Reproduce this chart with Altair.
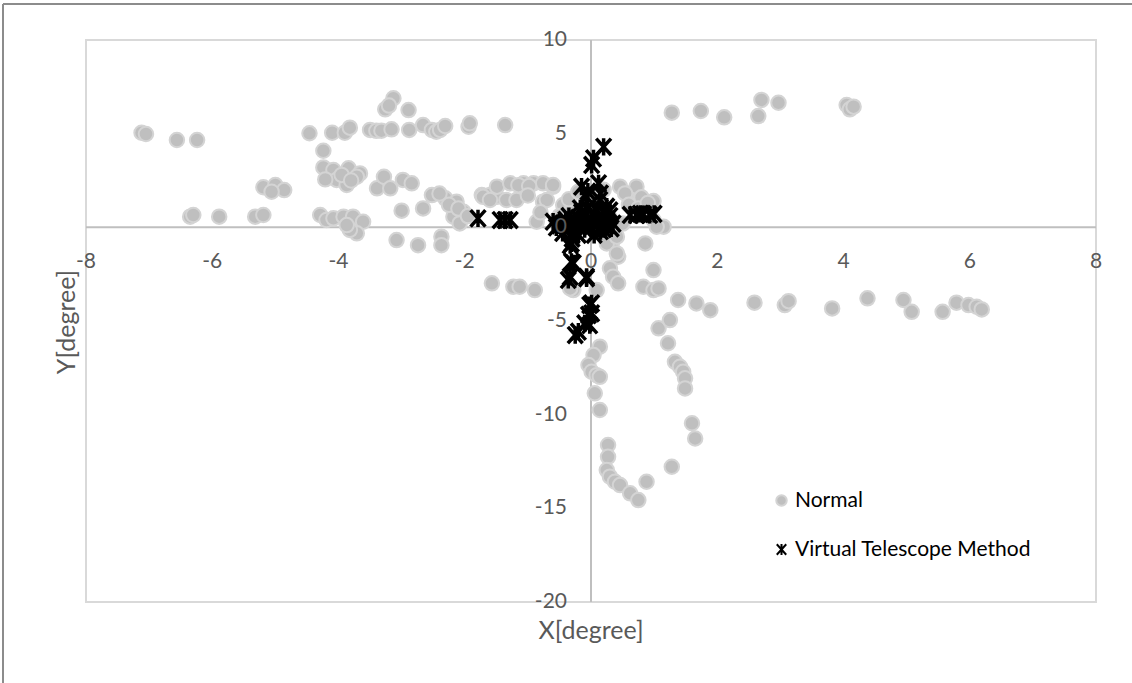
import altair as alt
import pandas as pd

# ---------------- data ----------------
normal_x = [-7.12, -7.05, -6.56, -6.24, -4.46, -4.10, -3.90, -3.82, -3.50, -3.40, -3.32, -3.16,
            -3.13, -3.26, -3.20, -2.89, -2.88, -2.66, -2.52, -2.45, -2.39, -2.31, -1.94, -1.92, -1.36,
            1.28, 1.74, 2.11, 2.65, 2.70, 2.97, 4.05, 4.10, 4.16,
            -4.24, -4.24, -4.08, -3.84, -3.66, -4.03, -4.21, -3.87, -3.71, -3.95, -3.80,
            -5.19, -5.00, -4.86, -5.06,
            -3.39, -3.28, -3.18, -2.98, -2.84,
            -2.52, -2.31, -2.13, -2.02, -2.18, -2.08, -2.66, -3.00, -2.40, -2.25, -2.10, -1.95,
            -1.73, -1.60, -1.49, -1.71, -1.49, -1.28, -1.07, -0.91, -0.76, -0.60, -1.15, -0.98,
            -1.60, -1.34, -1.18, -0.44, -0.76, -0.86, -0.70, -0.60, -1.00, -0.50, -0.30,
            -6.35, -6.30, -5.89, -5.32, -5.19, -4.29, -4.19, -4.08, -3.92, -3.77, -3.61, -3.71,
            -3.82, -3.87, -3.08, -2.74, -2.37, -2.37,
            -1.57, -1.23, -1.13, -0.89, -0.28, 0.09, -0.33,
            0.57, 0.46, 0.72, 0.54, 0.80, 0.99, 0.99, 1.15, 1.04, 0.30, 0.50,
            0.33, 0.86, 0.25, 0.41, 0.43, 0.30, 0.35, 0.43, 0.99, 0.83, 0.99, 1.07, 0.41,
            1.38, 1.67, 1.89, 2.59, 3.07, 3.13, 3.82, 4.38, 4.95, 5.08, 5.57, 5.79, 5.98, 6.11, 6.19,
            1.07, 1.25, 1.22, 1.33, 1.41, 1.46, 1.49, 1.49, 1.60, 1.65,
            0.14, 0.04, -0.04, 0.01, 0.09, 0.14, 0.06, 0.14, 0.27, 0.27, 0.25, 0.30, 0.38, 0.46,
            0.62, 0.75, 0.88, 1.28,
            -0.80, -0.55, -0.35, -0.20, 0.10, 0.20, 0.60, 0.75, 0.90]
normal_y = [5.05, 4.98, 4.66, 4.66, 5.02, 5.05, 5.05, 5.32, 5.20, 5.15, 5.16, 5.23,
            6.89, 6.30, 6.50, 6.26, 5.20, 5.46, 5.20, 5.10, 5.20, 5.41, 5.37, 5.55, 5.46,
            6.12, 6.21, 5.87, 5.94, 6.80, 6.65, 6.53, 6.30, 6.44,
            4.09, 3.20, 3.06, 3.15, 2.88, 2.53, 2.56, 2.26, 2.70, 2.80, 2.50,
            2.14, 2.26, 1.99, 1.90,
            2.08, 2.70, 2.08, 2.53, 2.35,
            1.72, 1.55, 1.37, 0.83, 0.57, 0.21, 1.01, 0.89, 1.80, 1.20, 1.00, 0.60,
            1.72, 1.72, 1.63, 1.63, 2.17, 2.35, 2.35, 2.35, 2.35, 2.17, 2.25, 2.20,
            1.46, 1.46, 1.46, 1.19, 1.37, 0.30, 1.46, 2.26, 1.70, 0.60, 1.00,
            0.57, 0.66, 0.57, 0.57, 0.66, 0.66, 0.39, 0.48, 0.57, 0.57, 0.30, -0.32,
            -0.14, 0.12, -0.68, -0.95, -0.50, -0.95,
            -2.99, -3.17, -3.17, -3.35, -3.35, -3.35, -3.26,
            1.81, 2.17, 2.17, 1.81, 1.60, 1.40, 0.39, 0.03, 0.03, 0.50, 0.20,
            -0.86, -0.86, -0.86, -0.50, -1.57, -2.19, -2.64, -2.99, -2.28, -3.17, -3.35, -3.26, -1.39,
            -3.88, -4.06, -4.42, -4.02, -4.15, -3.94, -4.33, -3.79, -3.88, -4.51, -4.51, -4.02, -4.15, -4.24, -4.38,
            -5.39, -4.95, -6.19, -7.18, -7.44, -7.71, -8.06, -8.60, -10.46, -11.27,
            -6.37, -6.82, -7.35, -7.71, -7.89, -7.98, -8.86, -9.75, -11.62, -12.25, -12.96, -13.31, -13.58, -13.76,
            -14.20, -14.56, -13.58, -12.78,
            0.80, 0.40, 1.50, 1.90, 1.60, 2.00, 1.20, 1.00, 1.30]

vtm_x = [-1.79, -1.44, -1.36, -1.28,
         -0.60, -0.50, -0.45, -0.40, -0.35, -0.30, -0.25, -0.20, -0.15, -0.10, -0.05, 0.00, 0.05, 0.10,
         0.15, 0.20, 0.25, 0.30, 0.35, 0.10, -0.05, 0.20, -0.20, -0.30, 0.05, -0.15, 0.25, -0.17,
         0.14, -0.07, -0.15, 0.12, -0.05, 0.15,
         -0.55, -0.40, -0.30, -0.10, 0.00, 0.30, 0.20, -0.25, -0.45, 0.32,
         0.01, 0.04, 0.20,
         0.62, 0.72, 0.83, 0.93, 1.00, 0.78,
         -0.31, -0.33, -0.31, -0.28, -0.36, -0.33, -0.07, -0.07, -0.02, 0.01, 0.01, -0.04, -0.10,
         -0.02, -0.20, -0.25]
vtm_y = [0.48, 0.39, 0.39, 0.39,
         0.30, 0.10, -0.30, 0.20, 0.60, 0.10, -0.20, 0.50, 0.20, -0.10, 0.40, 0.00, 0.70, 0.20,
         -0.20, 0.40, 0.10, 0.60, 0.20, 0.90, 1.00, 0.80, -0.40, -0.60, -0.40, 0.80, 1.10, 1.01,
         1.46, 1.63, 2.17, 2.35, 1.90, 1.80,
         0.00, 0.40, -0.40, 0.60, 0.30, 0.90, -0.10, 0.30, 0.20, -0.05,
         3.33, 3.68, 4.30,
         0.66, 0.66, 0.70, 0.66, 0.72, 0.72,
         -0.86, -0.95, -1.84, -1.92, -2.81, -2.64, -2.64, -2.72, -4.15, -4.06, -4.59, -4.68, -5.13,
         -5.22, -5.57, -5.75]

series_names = ["Normal", "Virtual Telescope Method"]
x_ticks = [-8, -6, -4, -2, 0, 2, 4, 6, 8]
y_ticks = [10, 5, 0, -5, -10, -15, -20]
x_title = "X[degree]"
y_title = "Y[degree]"

# ---------------- tables ----------------
df = pd.concat([
    pd.DataFrame({"x": normal_x, "y": normal_y, "series": series_names[0]}),
    pd.DataFrame({"x": vtm_x, "y": vtm_y, "series": series_names[1]}),
], ignore_index=True)

xlab = pd.DataFrame({"x": x_ticks, "y": [0] * len(x_ticks), "label": [str(v) for v in x_ticks]})
ylab = pd.DataFrame({"x": [0] * len(y_ticks), "y": y_ticks, "label": [str(v) for v in y_ticks]})

FONT = "Lato"
GRAY_TXT = "#595959"
STAR = "M-0.9,-1L0.9,1M-0.9,1L0.9,-1M0,-1.05L0,1.05"

xs = alt.Scale(domain=[-8, 8], nice=False, zero=False)
ys = alt.Scale(domain=[-20, 10], nice=False, zero=False)

enc = dict(
    x=alt.X("x:Q", scale=xs, axis=alt.Axis(
        values=x_ticks, grid=True, labels=False, ticks=False, domain=False,
        gridColor="#D9D9D9", gridWidth=1.5, title=None)),
    y=alt.Y("y:Q", scale=ys, axis=alt.Axis(
        values=y_ticks, grid=True, labels=False, ticks=False, domain=False,
        gridColor="#D9D9D9", gridWidth=1.5, title=None)),
    shape=alt.Shape("series:N", title=None,
                    scale=alt.Scale(domain=series_names, range=["circle", STAR])),
    fill=alt.Fill("series:N", title=None,
                  scale=alt.Scale(domain=series_names, range=["#BFBFBF", "transparent"])),
    stroke=alt.Stroke("series:N", title=None,
                      scale=alt.Scale(domain=series_names, range=["#D4D4D4", "#000000"])),
)

circles = alt.Chart(df).transform_filter(
    alt.datum.series == series_names[0]
).mark_point(filled=True, size=210, opacity=1, strokeWidth=2).encode(**enc)

stars = alt.Chart(df).transform_filter(
    alt.datum.series == series_names[1]
).mark_point(filled=True, size=270, opacity=1, strokeWidth=3.5).encode(**enc)

zero_v = alt.Chart(pd.DataFrame({"x": [0]})).mark_rule(color="#BFBFBF", strokeWidth=2).encode(
    x=alt.X("x:Q", scale=xs, axis=None))
zero_h = alt.Chart(pd.DataFrame({"y": [0]})).mark_rule(color="#BFBFBF", strokeWidth=2).encode(
    y=alt.Y("y:Q", scale=ys, axis=None))

x_text = alt.Chart(xlab).mark_text(
    font=FONT, fontSize=21, color=GRAY_TXT, align="center", baseline="middle", dy=35
).encode(x=alt.X("x:Q", scale=xs, axis=None), y=alt.Y("y:Q", scale=ys, axis=None), text="label:N")

y_text = alt.Chart(ylab).mark_text(
    font=FONT, fontSize=21, color=GRAY_TXT, align="right", baseline="middle", dx=-24
).encode(x=alt.X("x:Q", scale=xs, axis=None), y=alt.Y("y:Q", scale=ys, axis=None), text="label:N")

title_df = pd.DataFrame({"xt": [x_title], "yt": [y_title]})
x_title_mark = alt.Chart(title_df).mark_text(
    font=FONT, fontSize=25, color=GRAY_TXT, align="center", baseline="middle"
).encode(x=alt.value(505), y=alt.value(591), text="xt:N")
y_title_mark = alt.Chart(title_df).mark_text(
    font=FONT, fontSize=25, color=GRAY_TXT, align="center", baseline="middle", angle=270
).encode(x=alt.value(-19), y=alt.value(282), text="yt:N")

frame_df = pd.DataFrame({"k": [0]})
frame_left = alt.Chart(frame_df).mark_rule(color="#8C8C8C", strokeWidth=2).encode(
    x=alt.value(-83), y=alt.value(-36), y2=alt.value(660))
frame_top = alt.Chart(frame_df).mark_rule(color="#8C8C8C", strokeWidth=2).encode(
    x=alt.value(-83), x2=alt.value(1060), y=alt.value(-36))

chart = alt.layer(
    zero_v, zero_h, circles, stars, x_text, y_text, x_title_mark, y_title_mark,
    frame_left, frame_top
).properties(
    width=1010, height=562,
    autosize=alt.AutoSizeParams(type="none"),
    padding={"left": 86, "top": 40, "right": 36, "bottom": 81},
    background="white",
).configure_view(
    stroke="#D9D9D9", strokeWidth=2
).configure_legend(
    orient="none", legendX=671, legendY=436,
    fillColor="white", strokeColor="white", padding=14,
    labelFont=FONT, labelFontSize=21, labelColor="#000000", labelLimit=500,
    symbolSize=110, symbolStrokeWidth=2, labelOffset=3, rowPadding=27,
)

chart.save("out.html", embed_options={"renderer": "svg", "actions": False})
